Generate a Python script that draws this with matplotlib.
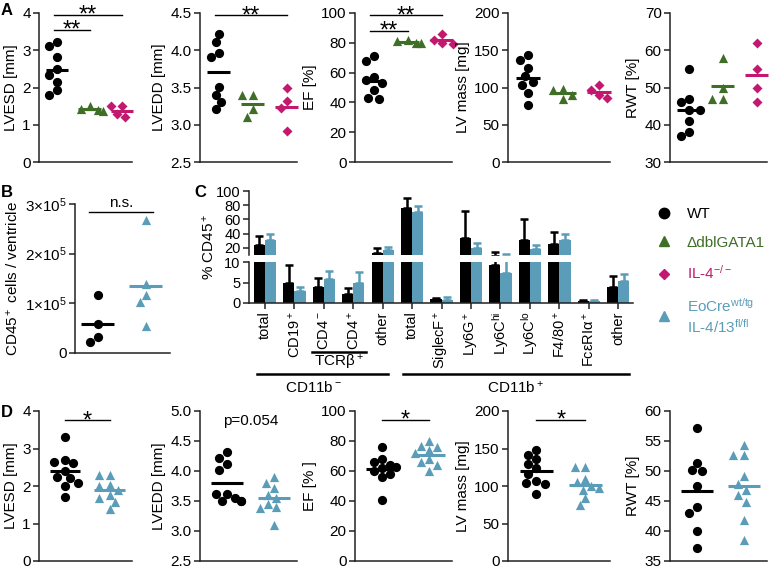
import numpy as np
import matplotlib
matplotlib.use('Agg')
import matplotlib.pyplot as plt
from matplotlib.lines import Line2D
from matplotlib.ticker import FormatStrFormatter
from matplotlib.transforms import blended_transform_factory

plt.rcParams['font.family'] = ['Liberation Sans', 'DejaVu Sans']
plt.rcParams['mathtext.fontset'] = 'custom'
plt.rcParams['mathtext.rm'] = 'Liberation Sans'
plt.rcParams['mathtext.it'] = 'Liberation Sans'
plt.rcParams['mathtext.bf'] = 'Liberation Sans:bold'
plt.rcParams['font.size'] = 11

GREEN = '#3f6e26'
PINK = '#c2186f'
BLUE = '#5b9db8'
AXC = '#222222'

# ---- panel A : WT / dblGATA1 / IL-4-/- ----
a_lvesd_wt = [3.22, 3.12, 2.82, 2.5, 2.33, 2.15, 1.92, 1.8]
a_lvesd_gata = [1.38, 1.4, 1.42, 1.5]
a_lvesd_il4 = [1.5, 1.5, 1.3, 1.2]
a_lvedd_wt = [4.22, 4.11, 3.96, 3.91, 3.51, 3.4, 3.31, 3.21]
a_lvedd_gata = [3.4, 3.4, 3.11, 3.21]
a_lvedd_il4 = [3.5, 3.32, 3.22, 2.91]
a_ef_wt = [68, 71, 57, 55, 53, 48, 43, 42]
a_ef_gata = [80, 80, 81, 82]
a_ef_il4 = [86, 82, 80, 79]
a_mass_wt = [143, 137, 126, 115, 107, 104, 93, 77]
a_mass_gata = [98, 96, 90, 84]
a_mass_il4 = [103, 97, 90, 86]
a_rwt_wt = [55, 47, 46, 44, 44, 41, 38, 37]
a_rwt_gata = [58, 50, 47, 47]
a_rwt_il4 = [62, 55, 50, 46]

# ---- panel B : CD45+ cells per ventricle (x10^5) ----
b_wt = [1.17, 0.59, 0.33, 0.23]
b_eo = [2.67, 1.39, 1.17, 1.02, 0.54]

# ---- panel C : % CD45+ ----
c_labels = ['total', 'CD19$^+$', 'CD4$^-$', 'CD4$^+$', 'other', 'total',
            'SiglecF$^+$', 'Ly6G$^+$', 'Ly6C$^{hi}$', 'Ly6C$^{lo}$',
            'F4/80$^+$', 'FcεRIα$^+$', 'other']
c_wt = [24, 5, 4, 2.2, 12.8, 76.5, 0.9, 33.5, 9.2, 31, 25.6, 0.5, 3.8]
c_wt_err = [13, 4.2, 2, 1.5, 7, 14, 0.4, 38.5, 5.6, 30, 16.4, 0.3, 2.8]
c_eo = [31, 3, 5.8, 5, 16.5, 70, 0.8, 20.4, 7.2, 18, 31, 0.6, 5.4]
c_eo_err = [9, 1, 1.9, 2.6, 4.5, 9, 0.7, 6.6, 3.8, 6, 8.6, 0.2, 1.6]

# ---- panel D : WT / EoCre IL-4/13 fl/fl ----
d_lvesd_wt = [3.31, 2.7, 2.64, 2.62, 2.4, 2.25, 2.22, 2.09, 2.0, 1.7]
d_lvesd_eo = [2.3, 2.3, 2.03, 2.0, 1.9, 1.76, 1.69, 1.58, 1.38]
d_lvedd_wt = [4.32, 4.22, 4.12, 4.02, 3.62, 3.62, 3.5, 3.5, 3.5, 3.55]
d_lvedd_eo = [3.9, 3.8, 3.72, 3.6, 3.55, 3.45, 3.4, 3.38, 3.1]
d_ef_wt = [76, 68, 66, 64, 63, 62, 60, 58, 56, 41]
d_ef_eo = [80, 77, 76, 74, 72, 68, 66, 64, 60]
d_mass_wt = [148, 142, 136, 130, 124, 116, 107, 104, 103, 89]
d_mass_eo = [125, 125, 110, 105, 100, 98, 95, 84, 75]
d_rwt_wt = [57.2, 51.4, 50.1, 50.0, 47.5, 44.0, 43.0, 40.0, 37.2]
d_rwt_eo = [54.4, 52.7, 52.7, 49.1, 47.8, 46.9, 46.0, 44.9, 41.9, 38.5]

W, H = 770, 568
fig = plt.figure(figsize=(W / 100, H / 100), dpi=100)


def px_axes(x0, y0, x1, y1):
    return fig.add_axes([x0 / W, 1 - y1 / H, (x1 - x0) / W, (y1 - y0) / H])


def style(ax, bottom=True):
    ax.spines['top'].set_visible(False)
    ax.spines['right'].set_visible(False)
    ax.spines['bottom'].set_visible(bottom)
    for s in ['left', 'bottom']:
        ax.spines[s].set_linewidth(1.1)
        ax.spines[s].set_color(AXC)
    ax.tick_params(direction='out', length=4, width=1.1, color=AXC,
                   labelsize=11, pad=2)


def swarm(vals, ylim, hpx, xu, d=9.0):
    vals = np.asarray(vals, float)
    ypx = (vals - ylim[0]) / (ylim[1] - ylim[0]) * hpx
    order = np.argsort(-vals)
    cands = sorted(np.arange(-5, 5.01, 1.0) * d * 0.3, key=abs)
    placed = []
    xo = np.zeros(len(vals))
    for i in order:
        pick = cands[-1]
        for c in cands:
            if all((c - px) ** 2 + (ypx[i] - py) ** 2 >= (d * 0.95) ** 2
                   for px, py in placed):
                pick = c
                break
        placed.append((pick, ypx[i]))
        xo[i] = pick * xu
    return xo


MK = {'o': 44, '^': 44, 'D': 26}


def dotplot(ax, groups, colors, markers, ylim, yticks, ylabel, xlim, fmt=None):
    style(ax)
    ax.set_xlim(*xlim)
    ax.set_ylim(*ylim)
    ax.set_xticks([])
    ax.set_yticks(yticks)
    if fmt:
        ax.yaxis.set_major_formatter(FormatStrFormatter(fmt))
    ax.set_ylabel(ylabel, fontsize=11, labelpad=3)
    bb = ax.get_position()
    wpx, hpx = bb.width * W, bb.height * H
    xu = (xlim[1] - xlim[0]) / wpx
    for i, (vals, c, m) in enumerate(zip(groups, colors, markers)):
        xs = i + swarm(vals, ylim, hpx, xu)
        ax.scatter(xs, vals, s=MK[m], c=c, marker=m, linewidths=0,
                   clip_on=False, zorder=3)
        ax.plot([i - 0.34, i + 0.34], [np.mean(vals)] * 2, color=c, lw=2.2,
                solid_capstyle='butt', zorder=4, clip_on=False)


def sig(ax, x0, x1, y, txt, star=True):
    ax.plot([x0, x1], [y, y], color='black', lw=1.0, clip_on=False)
    if star:
        ax.annotate(txt, xy=((x0 + x1) / 2, y), xytext=(0, -5),
                    textcoords='offset points', ha='center', va='baseline',
                    fontsize=17)
    else:
        ax.annotate(txt, xy=((x0 + x1) / 2, y), xytext=(0, 2),
                    textcoords='offset points', ha='center', va='bottom',
                    fontsize=11)


cols3 = ['black', GREEN, PINK]
mk3 = ['o', '^', 'D']
cols2 = ['black', BLUE]
mk2 = ['o', '^']
xl3 = (-0.55, 2.3)
xl2 = (-0.58, 1.5)

# ---------------- panel A ----------------
ax_x = [(39, 132), (200, 297), (355, 452), (508, 610), (670, 767)]
axs = [px_axes(x0, 13, x1, 162) for x0, x1 in ax_x]
dotplot(axs[0], [a_lvesd_wt, a_lvesd_gata, a_lvesd_il4], cols3, mk3,
        (0, 4), [0, 1, 2, 3, 4], 'LVESD [mm]', xl3)
sig(axs[0], -0.1, 1, 3.55, '**')
sig(axs[0], -0.1, 2, 3.95, '**')
dotplot(axs[1], [a_lvedd_wt, a_lvedd_gata, a_lvedd_il4], cols3, mk3,
        (2.5, 4.5), [2.5, 3.0, 3.5, 4.0, 4.5], 'LVEDD [mm]', xl3, '%.1f')
sig(axs[1], -0.1, 2, 4.47, '**')
dotplot(axs[2], [a_ef_wt, a_ef_gata, a_ef_il4], cols3, mk3,
        (0, 100), [0, 20, 40, 60, 80, 100], 'EF [%]', xl3)
sig(axs[2], -0.1, 1, 88, '**')
sig(axs[2], -0.1, 2, 98.5, '**')
dotplot(axs[3], [a_mass_wt, a_mass_gata, a_mass_il4], cols3, mk3,
        (0, 200), [0, 50, 100, 150, 200], 'LV mass [mg]', xl3)
dotplot(axs[4], [a_rwt_wt, a_rwt_gata, a_rwt_il4], cols3, mk3,
        (30, 70), [30, 40, 50, 60, 70], 'RWT [%]', xl3)

# ---------------- panel B ----------------
axb = px_axes(75, 204, 170, 353)
dotplot(axb, [b_wt, b_eo], cols2, mk2, (0, 3), [0, 1, 2, 3],
        'CD45$^+$ cells / ventricle', (-0.47, 1.5))
axb.set_yticklabels(['0', '1×10$^5$', '2×10$^5$', '3×10$^5$'])
sig(axb, -0.17, 1.15, 2.83, 'n.s.', star=False)

# ---------------- panel C ----------------
axu = px_axes(249, 191, 633, 255)
axl = px_axes(249, 262, 633, 303)
style(axu, bottom=False)
style(axl)
xc = np.arange(len(c_labels))
bw = 0.38
wt_top = np.array(c_wt) + np.array(c_wt_err)
eo_top = np.array(c_eo) + np.array(c_eo_err)
for ax, lo in ((axu, 10.5), (axl, -1)):
    ax.bar(xc - bw / 2, c_wt, bw, color='black', zorder=2)
    ax.bar(xc + bw / 2, c_eo, bw, color=BLUE, zorder=2)
    # only draw error bars whose top reaches into this axis
    kw = wt_top > lo
    ke = eo_top > lo
    ax.errorbar((xc - bw / 2)[kw], np.array(c_wt)[kw],
                yerr=[np.zeros(kw.sum()), np.array(c_wt_err)[kw]],
                fmt='none', ecolor='black', elinewidth=1.8, capsize=3,
                capthick=1.8, zorder=1)
    ax.errorbar((xc + bw / 2)[ke], np.array(c_eo)[ke],
                yerr=[np.zeros(ke.sum()), np.array(c_eo_err)[ke]],
                fmt='none', ecolor=BLUE, elinewidth=1.8, capsize=3,
                capthick=1.8, zorder=1)
    ax.set_xlim(-0.54, 12.5)
axu.set_ylim(10, 100)
axu.set_yticks([20, 40, 60, 80, 100])
axu.set_xticks([])
axl.set_ylim(0, 10)
axl.set_yticks([0, 5, 10])
axl.set_xticks(xc)
axl.set_xticklabels(c_labels, rotation=90, fontsize=10.5)
axu.tick_params(labelsize=10.5)
axl.tick_params(labelsize=10.5)
fig.text(209 / W, 1 - 247 / H, '% CD45$^+$', rotation=90, ha='center',
         va='center', fontsize=11)

tr = blended_transform_factory(axl.transData, fig.transFigure)


def group_line(x0, x1, ypx, txt, typx, tx=None):
    axl.plot([x0, x1], [1 - ypx / H] * 2, color='black', lw=1.8,
             transform=tr, clip_on=False)
    axl.text((x0 + x1) / 2 if tx is None else tx, 1 - typx / H, txt,
             transform=tr, ha='center', va='center', fontsize=11)


group_line(1.6, 3.45, 352, 'TCRβ$^+$', 363, 2.5)
group_line(-0.27, 4.17, 374, 'CD11b$^-$', 388, 1.65)
group_line(4.7, 12.35, 374, 'CD11b$^+$', 388, 8.5)

# legend
handles = [Line2D([], [], ls='none', marker='o', color='black', ms=7.5),
           Line2D([], [], ls='none', marker='^', color=GREEN, ms=6.5),
           Line2D([], [], ls='none', marker='D', color=PINK, ms=5.5),
           Line2D([], [], ls='none', marker='^', color=BLUE, ms=6.5)]
labels = ['WT', 'ΔdblGATA1', 'IL-4$^{-/-}$',
          'EoCre$^{wt/tg}$\nIL-4/13$^{fl/fl}$']
fig.legend(handles, labels, loc='upper left',
           bbox_to_anchor=(650 / W, 1 - 201 / H), frameon=False,
           labelcolor=['black', GREEN, PINK, BLUE], fontsize=11,
           handlelength=1.0, handletextpad=1.0, labelspacing=0.95,
           borderaxespad=0)

# ---------------- panel D ----------------
axd = [px_axes(x0, 411, x1, 561) for x0, x1 in ax_x]
dotplot(axd[0], [d_lvesd_wt, d_lvesd_eo], cols2, mk2,
        (0, 4), [0, 1, 2, 3, 4], 'LVESD [mm]', xl2)
sig(axd[0], 0, 1, 3.75, '*')
dotplot(axd[1], [d_lvedd_wt, d_lvedd_eo], cols2, mk2,
        (2.5, 5.0), [2.5, 3.0, 3.5, 4.0, 4.5, 5.0], 'LVEDD [mm]', xl2, '%.1f')
axd[1].text(0.5, 4.83, 'p=0.054', ha='center', va='center', fontsize=11)
dotplot(axd[2], [d_ef_wt, d_ef_eo], cols2, mk2,
        (0, 100), [0, 20, 40, 60, 80, 100], 'EF [% ]', xl2)
sig(axd[2], 0, 1, 94, '*')
dotplot(axd[3], [d_mass_wt, d_mass_eo], cols2, mk2,
        (0, 200), [0, 50, 100, 150, 200], 'LV mass [mg]', xl2)
sig(axd[3], 0, 1, 188, '*')
dotplot(axd[4], [d_rwt_wt, d_rwt_eo], cols2, mk2,
        (35, 60), [35, 40, 45, 50, 55, 60], 'RWT [%]', xl2)

# panel letters
for t, x, y in [('A', 1, 3), ('B', 1, 185), ('C', 194, 185), ('D', 1, 405)]:
    fig.text(x / W, 1 - y / H, t, weight='bold', fontsize=12, ha='left',
             va='top')

fig.savefig('out.png', dpi=100)
